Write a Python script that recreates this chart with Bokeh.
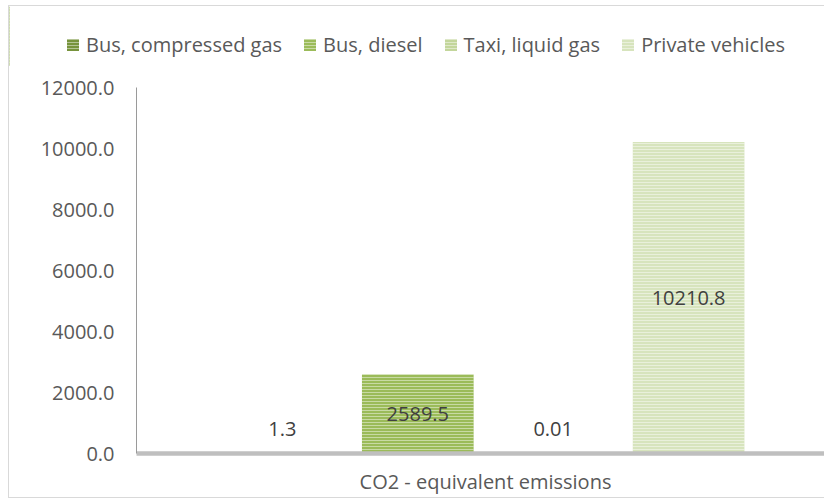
from bokeh.plotting import figure
from bokeh.layouts import column
from bokeh.models import (Range1d, FixedTicker, Legend, LegendItem, ColumnDataSource,
                          PrintfTickFormatter)
from bokeh.embed import file_html
from bokeh.resources import INLINE
from bokeh.core.properties import value

# ---- data ----
category = "CO2 - equivalent emissions"
series = ["Bus, compressed gas", "Bus, diesel", "Taxi, liquid gas", "Private vehicles"]
values = [1.3, 2589.5, 0.01, 10210.8]
value_labels = ["1.3", "2589.5", "0.01", "10210.8"]
colors = ["#77933c", "#9bbb59", "#c3d69b", "#d7e4bd"]
y_ticks = [0, 2000, 4000, 6000, 8000, 10000, 12000]

FONT = "Open Sans"
HATCH = dict(hatch_pattern="horizontal_line", hatch_color="white", hatch_alpha=0.45,
             hatch_scale=3, hatch_weight=1)

# ---- legend strip (its swatch renderers sit outside the visible range) ----
leg = figure(width=815, height=60, output_backend="svg", toolbar_location=None,
             x_range=Range1d(0, 1), y_range=Range1d(0, 1),
             x_axis_location=None, y_axis_location=None,
             min_border_left=0, min_border_right=0, min_border_top=0, min_border_bottom=0)
leg.frame_align = False
leg.outline_line_color = None
leg.grid.grid_line_color = None

items = []
for name, v, c in zip(series, values, colors):
    src = ColumnDataSource(dict(x=[-10.0], top=[v]))
    r = leg.vbar(x="x", top="top", width=0.1, source=src, fill_color=c, line_color=None, **HATCH)
    items.append(LegendItem(label=name, renderers=[r]))

legend = Legend(items=items, orientation="horizontal", location=(56, 8),
                label_text_font=FONT, label_text_font_size="20px", label_text_color="#595959",
                glyph_width=15, glyph_height=15, label_standoff=6, spacing=20,
                padding=0, margin=0, border_line_color=None, background_fill_alpha=0)
leg.add_layout(legend, "center")

# ---- main chart ----
p = figure(width=815, height=431, output_backend="svg", toolbar_location=None,
           x_range=Range1d(-0.5, 0.4857), y_range=Range1d(0, 12000),
           min_border_left=127, min_border_top=21, min_border_bottom=44, min_border_right=0)
p.frame_align = False
p.outline_line_color = None
p.grid.grid_line_color = None

slot = 0.194
bar_w = 0.16
n = len(series)
for i, (v, c) in enumerate(zip(values, colors)):
    x = (i - (n - 1) / 2) * slot
    src = ColumnDataSource(dict(x=[x], top=[v]))
    p.vbar(x="x", top="top", width=bar_w, source=src, fill_color=c, line_color=None, **HATCH)

# data labels
lx = [(i - (n - 1) / 2) * slot for i in range(n)]
ly = [max(v / 2, 800) for v in values]
p.text(x=lx, y=ly, text=value_labels, text_align="center", text_baseline="middle",
       text_font=value(FONT), text_font_size="20px", text_color="#404040")

# y axis
ya = p.yaxis[0]
ya.ticker = FixedTicker(ticks=y_ticks)
ya.formatter = PrintfTickFormatter(format="%.1f")
ya.major_tick_line_color = None
ya.minor_tick_line_color = None
ya.major_tick_out = 0
ya.major_tick_in = 0
ya.axis_line_color = "#9a9a9a"
ya.axis_line_width = 1
ya.major_label_standoff = 22
ya.major_label_text_font = FONT
ya.major_label_text_font_size = "20px"
ya.major_label_text_color = "#595959"

# x axis
xa = p.xaxis[0]
xa.ticker = FixedTicker(ticks=[0])
xa.major_label_overrides = {0: category}
xa.major_tick_line_color = None
xa.minor_tick_line_color = None
xa.major_tick_out = 0
xa.major_tick_in = 0
xa.axis_line_color = "#bfbfbf"
xa.axis_line_width = 4.5
xa.major_label_standoff = 14
xa.major_label_text_font = FONT
xa.major_label_text_font_size = "20px"
xa.major_label_text_color = "#595959"

layout = column(leg, p, spacing=0,
                styles={"margin-left": "8px", "margin-top": "5px",
                        "border-left": "1px solid #d9d9d9", "border-top": "1px solid #d9d9d9",
                        "border-bottom": "1px solid #d9d9d9"})

open("out.html", "w").write(file_html(layout, INLINE))
